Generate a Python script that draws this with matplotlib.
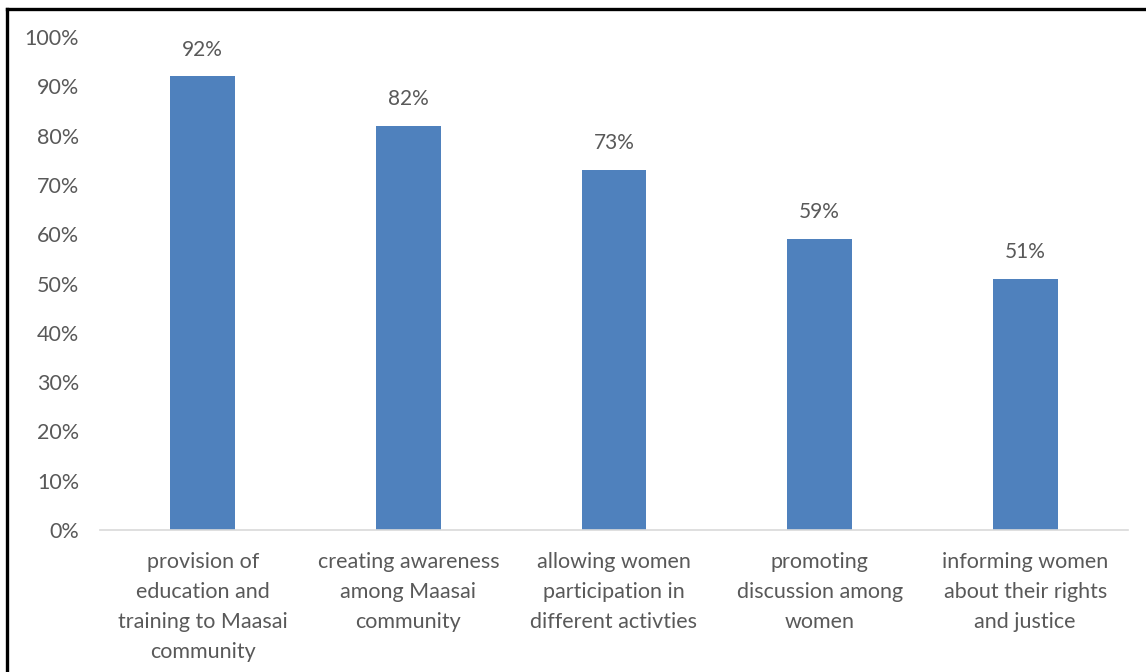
import matplotlib.pyplot as plt
from matplotlib.lines import Line2D

plt.rcParams['font.family'] = ['Lato', 'DejaVu Sans']

# Data
categories = [
    'provision of\neducation and\ntraining to Maasai\ncommunity',
    'creating awareness\namong Maasai\ncommunity',
    'allowing women\nparticipation in\ndifferent activties',
    'promoting\ndiscussion among\nwomen',
    'informing women\nabout their rights\nand justice',
]
values = [92, 82, 73, 59, 51]
yticks = list(range(0, 101, 10))

text_color = '#595959'
bar_color = '#4f81bd'

fig = plt.figure(figsize=(11.46, 6.72), dpi=100)
ax = fig.add_axes([100 / 1146, 142 / 672, 1028 / 1146, 493 / 672])

x = range(len(categories))
bars = ax.bar(x, values, width=0.316, color=bar_color)

for rect, v in zip(bars, values):
    ax.annotate(f'{v}%', (rect.get_x() + rect.get_width() / 2, v),
                xytext=(0, 12), textcoords='offset points',
                ha='center', va='bottom', fontsize=15, color=text_color)

ax.set_xlim(-0.5, len(categories) - 0.5)
ax.set_ylim(0, 100)
ax.set_yticks(yticks)
ax.set_yticklabels([f'{t}%' for t in yticks])
ax.set_xticks(list(x))
ax.set_xticklabels(categories, linespacing=1.62)

ax.tick_params(axis='both', length=0, labelsize=15.5, labelcolor=text_color)
ax.tick_params(axis='x', pad=16)
ax.tick_params(axis='y', pad=15)

for side in ['top', 'right', 'left']:
    ax.spines[side].set_visible(False)
ax.spines['bottom'].set_color('#d9d9d9')
ax.spines['bottom'].set_linewidth(1.2)

# frame lines of the surrounding box
fig.add_artist(Line2D([6.5 / 1146, 1.0], [1 - 8.5 / 672, 1 - 8.5 / 672],
                      color='black', linewidth=2.4))
fig.add_artist(Line2D([6.5 / 1146, 6.5 / 1146], [0, 1 - 8.5 / 672],
                      color='black', linewidth=2.4))
fig.text(10 / 1146, 1 - 3 / 672, '1.', fontsize=13, color='black',
         ha='left', va='bottom', fontweight='bold')

fig.savefig('out.png', dpi=100)
